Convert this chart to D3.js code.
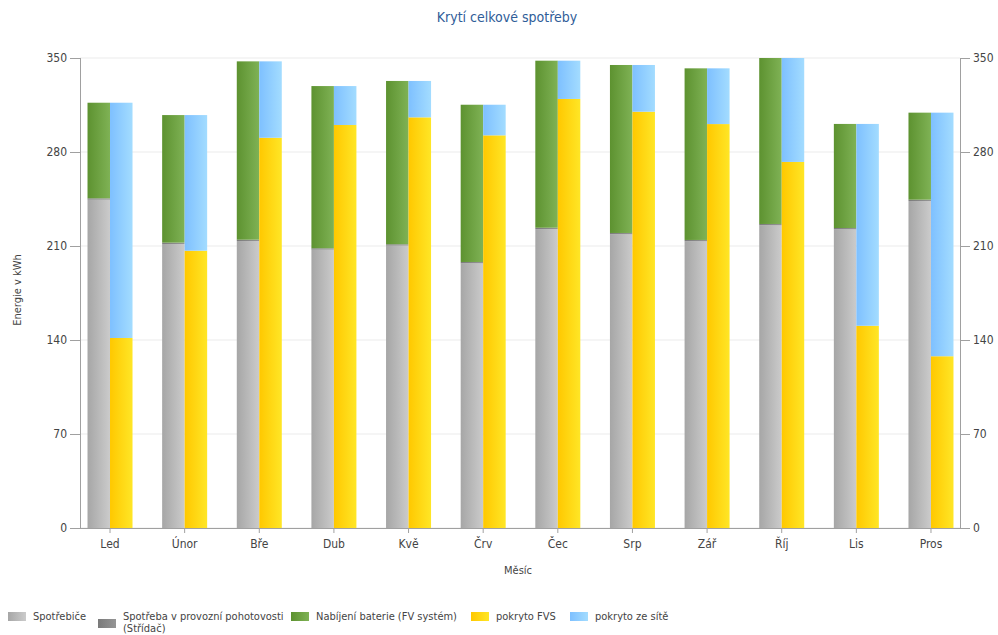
<!DOCTYPE html>
<html>
<head>
<meta charset="utf-8">
<script src="https://cdn.jsdelivr.net/npm/d3@7"></script>
<style>
  body { margin: 0; background: #fff; }
  svg { font-family: "DejaVu Sans Condensed", "DejaVu Sans", sans-serif; }
</style>
</head>
<body>
<script>
const mesice = ["Led", "Únor", "Bře", "Dub", "Kvě", "Črv", "Čec", "Srp", "Zář", "Říj", "Lis", "Pros"];
const spotrebice = [244.5, 211.5, 213.7, 207.3, 210.3, 197.1, 222.6, 218.7, 213.5, 225.4, 222.4, 243.5];
const pohotovost = [1, 1, 1, 1, 1, 1, 1, 1, 1, 1, 1, 1];
const nabijeni = [71.2, 95.0, 132.8, 120.8, 121.6, 117.1, 124.4, 125.1, 127.8, 123.6, 77.5, 64.8];
const pokrytoFVS = [141.5, 206.5, 290.6, 300.1, 305.8, 292.4, 319.5, 310.0, 300.8, 272.6, 150.6, 127.9];
const pokrytoSit = [175.2, 101.0, 56.9, 29.0, 27.1, 22.8, 28.5, 34.8, 41.5, 77.4, 150.3, 181.4];
const yTicks = [0, 70, 140, 210, 280, 350];

const serie = [
  { nazev: "Spotřebiče", data: spotrebice, stack: 0, c1: "#a6a6a6", c2: "#cbcbcb" },
  { nazev: "Spotřeba v provozní pohotovosti (Střídač)", data: pohotovost, stack: 0, c1: "#7a7a7a", c2: "#959595" },
  { nazev: "Nabíjení baterie (FV systém)", data: nabijeni, stack: 0, c1: "#5d9230", c2: "#7fb255" },
  { nazev: "pokryto FVS", data: pokrytoFVS, stack: 1, c1: "#ffc800", c2: "#ffe626" },
  { nazev: "pokryto ze sítě", data: pokrytoSit, stack: 1, c1: "#7ec0ff", c2: "#a3dcff" }
];

const W = 998, H = 635;
const plotLeft = 80, plotRight = 960, plotTop = 58, plotBottom = 528;

const svg = d3.select("body").append("svg")
  .attr("width", W).attr("height", H);

const defs = svg.append("defs");
serie.forEach((s, i) => {
  const g = defs.append("linearGradient").attr("id", "grad" + i)
    .attr("x1", "0%").attr("x2", "100%").attr("y1", "0%").attr("y2", "0%");
  g.append("stop").attr("offset", "0%").attr("stop-color", s.c1);
  g.append("stop").attr("offset", "100%").attr("stop-color", s.c2);
});

let x = d3.scaleBand()
  .domain(mesice)
  .range([72.7, 968.3]);

let y = d3.scaleLinear()
  .domain([0, 350])
  .range([plotBottom, plotTop]);

// mřížka
svg.append("g")
  .selectAll("line")
  .data(yTicks)
  .enter()
  .append("line")
  .attr("x1", plotLeft).attr("x2", plotRight)
  .attr("y1", d => y(d)).attr("y2", d => y(d))
  .attr("stroke", "#ebebeb");

// sloupce
const barW = 22.5;
const baseline = mesice.map(() => [0, 0]);
serie.forEach((s, i) => {
  svg.append("g")
    .selectAll("rect")
    .data(s.data)
    .enter()
    .append("rect")
    .attr("x", (d, j) => x(mesice[j]) + x.bandwidth() / 2 + (s.stack === 0 ? -barW : 0))
    .attr("y", (d, j) => y(baseline[j][s.stack] + d))
    .attr("width", barW)
    .attr("height", (d, j) => y(baseline[j][s.stack]) - y(baseline[j][s.stack] + d))
    .attr("fill", `url(#grad${i})`)
    .each((d, j) => { baseline[j][s.stack] += d; });
});

// osy
const axisColor = "#a0a0a0";
const yLeft = svg.append("g")
  .attr("transform", `translate(${plotLeft},0)`)
  .call(d3.axisLeft(y).tickValues(yTicks).tickSize(10).tickPadding(3));
const yRight = svg.append("g")
  .attr("transform", `translate(${plotRight},0)`)
  .call(d3.axisRight(y).tickValues(yTicks).tickSize(10).tickPadding(3));
const xAxis = svg.append("g")
  .attr("transform", `translate(0,${plotBottom})`)
  .call(d3.axisBottom(x).tickSize(5).tickPadding(6));

[yLeft, yRight, xAxis].forEach(a => {
  a.select(".domain").attr("stroke", axisColor);
  a.selectAll(".tick line").attr("stroke", axisColor);
  a.selectAll(".tick text")
    .attr("fill", "#444")
    .style("font-size", "12px")
    .style("font-family", '"DejaVu Sans Condensed", "DejaVu Sans", sans-serif');
});
xAxis.select(".domain").attr("d", `M${plotLeft},0.5H${plotRight}`);
yLeft.select(".domain").attr("d", `M0.5,${plotTop}V${plotBottom}`);
yRight.select(".domain").attr("d", `M0.5,${plotTop}V${plotBottom}`);

// titulky
svg.append("text")
  .attr("x", 507).attr("y", 22)
  .attr("text-anchor", "middle")
  .attr("fill", "#2f5d98")
  .style("font-size", "14px")
  .text("Krytí celkové spotřeby");

svg.append("text")
  .attr("transform", "translate(21,290) rotate(-90)")
  .attr("text-anchor", "middle")
  .attr("fill", "#444")
  .style("font-size", "11px")
  .text("Energie v kWh");

svg.append("text")
  .attr("x", 518).attr("y", 574)
  .attr("text-anchor", "middle")
  .attr("fill", "#444")
  .style("font-size", "11px")
  .text("Měsíc");

// legenda
const legendX = [8, 98, 291, 471, 570];
serie.forEach((s, i) => {
  const lg = svg.append("g").attr("transform", `translate(${legendX[i]},0)`);
  const words = s.nazev.split(" (");
  const twoLines = i === 1;
  lg.append("rect")
    .attr("x", 0).attr("y", twoLines ? 619 : 612)
    .attr("width", 18).attr("height", 9)
    .attr("fill", `url(#grad${i})`);
  const t = lg.append("text")
    .attr("x", 25).attr("y", 620)
    .attr("fill", "#444")
    .style("font-size", "11px");
  if (twoLines) {
    t.append("tspan").attr("x", 25).attr("y", 620).text(words[0]);
    t.append("tspan").attr("x", 25).attr("y", 632).text("(" + words[1]);
  } else {
    t.text(s.nazev);
  }
});
</script>
</body>
</html>
